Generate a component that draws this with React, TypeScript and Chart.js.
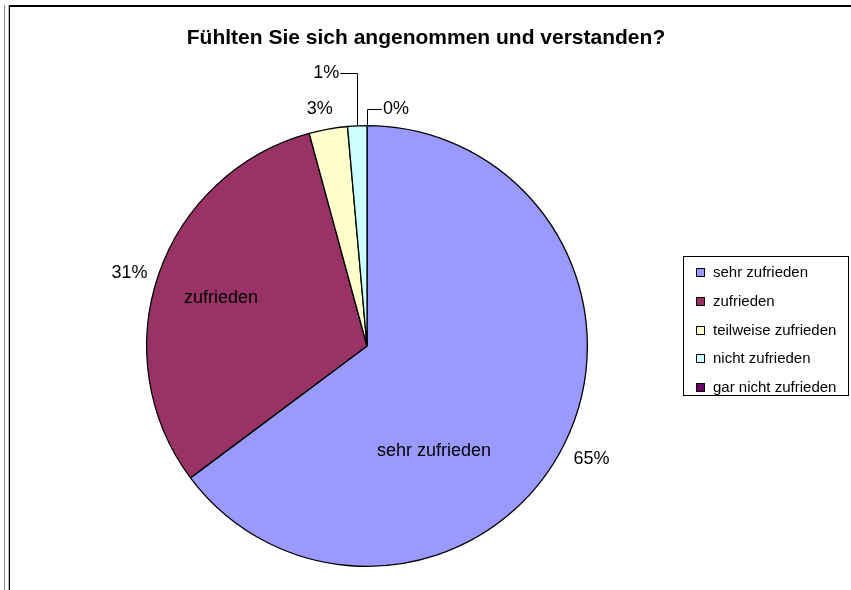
import React, { useEffect, useRef } from "react";
import { Chart, registerables } from "chart.js";

Chart.register(...registerables);

const chartTitle = "Fühlten Sie sich angenommen und verstanden?";
const categories = [
  "sehr zufrieden",
  "zufrieden",
  "teilweise zufrieden",
  "nicht zufrieden",
  "gar nicht zufrieden",
];
const counts = [46, 22, 2, 1, 0];
const sliceColors = ["#9999FF", "#993366", "#FFFFCC", "#CCFFFF", "#660066"];
// category names written inside the slice (empty = none)
const innerLabels = ["sehr zufrieden", "zufrieden", "", "", ""];

const FONT = "'Liberation Sans', Arial, Helvetica, sans-serif";

// label layout (styling only)
const pctLayout = [
  { k: 1.14, dx: 0, dy: 0, leader: false },
  { k: 1.14, dx: 0, dy: 9, leader: false },
  { k: 1.14, dx: -3, dy: 10, leader: false },
  { k: 1, dx: -31, dy: -53, leader: true },
  { k: 1, dx: 29, dy: -17, leader: true },
];
const innerLayout = [
  { dx: 67, dy: 105 },
  { dx: -146, dy: -48 },
  { dx: 0, dy: 0 },
  { dx: 0, dy: 0 },
  { dx: 0, dy: 0 },
];

const decorPlugin = {
  id: "decor",
  beforeDraw(chart: any) {
    const ctx = chart.ctx;
    const H = chart.height;
    const W = chart.width;
    ctx.save();
    ctx.fillStyle = "#ffffff";
    ctx.fillRect(0, 0, W, H);
    // frame lines
    ctx.fillStyle = "#8a8a8a";
    ctx.fillRect(4, 5, 1, H - 5);
    ctx.fillStyle = "#bdbdbd";
    ctx.fillRect(8, 5, 1, H - 5);
    ctx.fillStyle = "#000000";
    ctx.fillRect(9, 5, 1, H - 5);
    ctx.fillRect(9, 5, W - 9, 2);
    ctx.restore();
  },
  afterDraw(chart: any) {
    const ctx = chart.ctx;
    ctx.save();
    ctx.fillStyle = "#000";
    ctx.textBaseline = "middle";

    // title
    ctx.font = `bold 21px ${FONT}`;
    ctx.textAlign = "center";
    ctx.fillText(chartTitle, 426, 38);

    const meta = chart.getDatasetMeta(0);
    const total = counts.reduce((a, b) => a + b, 0);
    meta.data.forEach((arc: any, i: number) => {
      const p = arc.getProps(["x", "y", "startAngle", "endAngle", "outerRadius"], true);
      const mid = (p.startAngle + p.endAngle) / 2;
      const cx = p.x;
      const cy = p.y;
      const r = p.outerRadius;
      const pct = Math.round((counts[i] / total) * 100) + "%";
      const L = pctLayout[i];
      ctx.font = `18px ${FONT}`;
      ctx.textAlign = "center";
      if (!L.leader) {
        const tx = cx + Math.cos(mid) * r * L.k + L.dx;
        const ty = cy + Math.sin(mid) * r * L.k + L.dy;
        ctx.fillText(pct, tx, ty);
      } else {
        const ax = cx + Math.cos(mid) * r;
        const ay = cy + Math.sin(mid) * r;
        const tx = ax + L.dx;
        const ty = ay + L.dy;
        ctx.fillText(pct, tx, ty);
        const w = ctx.measureText(pct).width;
        const edge = L.dx < 0 ? tx + w / 2 + 1 : tx - w / 2 - 1;
        ctx.strokeStyle = "#000";
        ctx.lineWidth = 1;
        ctx.beginPath();
        ctx.moveTo(edge, Math.round(ty) + 0.5);
        ctx.lineTo(Math.round(ax) + 0.5, Math.round(ty) + 0.5);
        ctx.lineTo(Math.round(ax) + 0.5, ay);
        ctx.stroke();
      }
      if (innerLabels[i]) {
        ctx.font = `18px ${FONT}`;
        ctx.fillText(innerLabels[i], cx + innerLayout[i].dx, cy + innerLayout[i].dy);
      }
    });

    // legend
    const bx = 683.5, by = 256.5, bw = 165, bh = 139;
    ctx.strokeStyle = "#000";
    ctx.lineWidth = 1;
    ctx.strokeRect(bx, by, bw, bh);
    ctx.font = `15px ${FONT}`;
    ctx.textAlign = "left";
    categories.forEach((c, i) => {
      const yc = 272 + i * 28.75;
      ctx.fillStyle = sliceColors[i];
      ctx.fillRect(696, Math.round(yc) - 4, 9, 9);
      ctx.strokeStyle = "#000";
      ctx.strokeRect(696.5, Math.round(yc) - 3.5, 8, 8);
      ctx.fillStyle = "#000";
      ctx.fillText(c, 713, yc + 1);
    });
    ctx.restore();
  },
};

export default function App() {
  const ref = useRef<HTMLCanvasElement | null>(null);
  useEffect(() => {
    if (!ref.current) return;
    const chart = new Chart(ref.current, {
      type: "pie",
      data: {
        labels: categories,
        datasets: [
          {
            data: counts,
            backgroundColor: sliceColors,
            borderColor: "#000000",
            borderWidth: 1.3,
          },
        ],
      },
      options: {
        responsive: false,
        animation: false,
        events: [],
        layout: { padding: { left: 146, right: 263, top: 125, bottom: 23 } },
        plugins: {
          legend: { display: false },
          title: { display: false },
          tooltip: { enabled: false },
        },
      },
      plugins: [decorPlugin],
    });
    return () => chart.destroy();
  }, []);
  return (
    <div style={{ position: "absolute", left: 0, top: 0, width: 851, height: 590 }}>
      <canvas ref={ref} width={851} height={590} />
    </div>
  );
}
